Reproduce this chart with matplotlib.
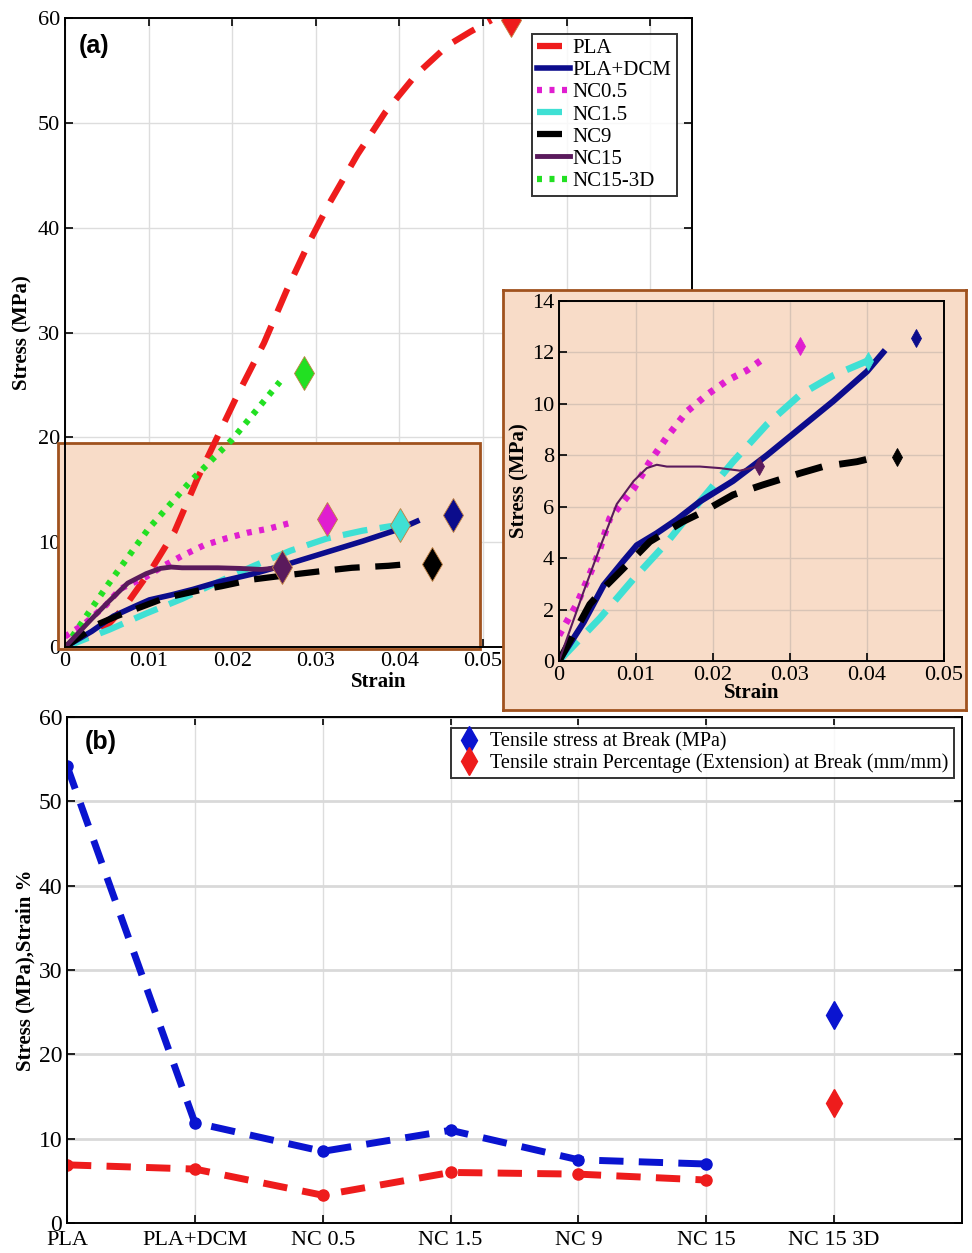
'''
Stress-strain curves (a) with zoomed inset, and break values per sample (b).
'''

import numpy as np
import matplotlib.pyplot as plt
from matplotlib.patches import Rectangle

plt.rcParams['font.family'] = ['Liberation Serif', 'DejaVu Serif']

# ---- panel (a) data: strain, stress (MPa) ----
pla_x = [0, 0.005, 0.0072, 0.0104, 0.0131, 0.0158, 0.0185, 0.0206, 0.0238, 0.0265,
         0.0292, 0.0316, 0.035, 0.0383, 0.042, 0.0458, 0.0485, 0.051]
pla_y = [0, 2.0, 3.9, 7.5, 11.0, 16.0, 20.5, 24.0, 29.0, 34.0,
         38.6, 42.3, 47.0, 51.0, 54.6, 57.4, 58.7, 59.8]

dcm_x = [0, 0.0032, 0.0058, 0.0084, 0.0101, 0.0127, 0.0153, 0.0183, 0.0226, 0.027,
         0.0313, 0.0356, 0.04, 0.0421]
dcm_y = [0, 1.5, 2.95, 3.9, 4.5, 4.97, 5.5, 6.2, 7.0, 8.0, 9.05, 10.1, 11.26, 12.0]

nc05_x = [0, 0.0023, 0.0049, 0.0066, 0.0097, 0.0118, 0.014, 0.0166, 0.0192, 0.0218,
          0.0244, 0.027]
nc05_y = [1.0, 2.2, 4.0, 5.55, 6.7, 7.75, 8.7, 9.7, 10.35, 10.9, 11.3, 11.85]

nc15_x = [0, 0.0053, 0.0097, 0.014, 0.0183, 0.0226, 0.027, 0.0313, 0.0356, 0.0399]
nc15_y = [0, 1.66, 3.2, 4.6, 6.2, 7.75, 9.2, 10.35, 11.1, 11.65]

nc9_x = [0, 0.004, 0.0062, 0.0097, 0.0118, 0.0161, 0.0187, 0.0226, 0.0265, 0.0313,
         0.0343, 0.0387, 0.0408]
nc9_y = [0, 2.2, 2.95, 4.0, 4.64, 5.42, 5.8, 6.46, 6.85, 7.3, 7.56, 7.75, 7.9]

nc150_x = [0, 0.0032, 0.0053, 0.0075, 0.0097, 0.0114, 0.0127, 0.014, 0.0157, 0.0183,
           0.0209, 0.0235, 0.0257]
nc150_y = [0, 2.7, 4.4, 6.1, 7.0, 7.5, 7.63, 7.56, 7.56, 7.56, 7.5, 7.4, 7.56]

nc3d_x = [0, 0.005, 0.01, 0.015, 0.02, 0.0257]
nc3d_y = [0, 5.8, 11.3, 15.8, 19.8, 25.3]

# break points (diamonds)
brk_pla = (0.0534, 59.8)
brk_dcm = (0.0464, 12.55)
brk_nc05 = (0.0313, 12.25)
brk_nc15 = (0.0401, 11.65)
brk_nc9 = (0.0439, 7.95)
brk_nc150 = (0.026, 7.6)
brk_nc3d = (0.0286, 26.1)

# ---- panel (b) data ----
samples = ['PLA', 'PLA+DCM', 'NC 0.5', 'NC 1.5', 'NC 9', 'NC 15', 'NC 15 3D']
stress_break = [54.2, 11.9, 8.5, 11.0, 7.5, 7.0, 24.7]
strain_break = [6.9, 6.4, 3.3, 6.0, 5.8, 5.1, 14.2]

c_pla = '#ee1c1c'
c_dcm = '#0c0c8c'
c_nc05 = '#e01ed0'
c_nc15 = '#3fe0d4'
c_nc9 = 'black'
c_nc150 = '#5a1a5c'
c_nc3d = '#22e022'
peach = '#f8dcc8'
brown = '#a0521e'

fig = plt.figure(figsize=(9.72, 12.53), dpi=100)


def curves(ax, lw_scale=1.0, ms=17, inset=False):
    if not inset:
        ax.plot(pla_x, pla_y, color=c_pla, lw=4.5, ls=(0, (4, 2.5)), label='PLA')
        ax.plot(nc3d_x, nc3d_y, color=c_nc3d, lw=4.5, ls=(0, (0.8, 1.2)), label='NC15-3D')
    ax.plot(nc05_x, nc05_y, color=c_nc05, lw=4.5 * lw_scale, ls=(0, (0.8, 1.2)), label='NC0.5')
    ax.plot(nc15_x, nc15_y, color=c_nc15, lw=4.5 * lw_scale, ls=(0, (4, 2)), label='NC1.5')
    ax.plot(dcm_x, dcm_y, color=c_dcm, lw=4.0 * lw_scale, label='PLA+DCM')
    ax.plot(nc9_x, nc9_y, color=c_nc9, lw=4.5 * lw_scale, ls=(0, (4, 2.5)), label='NC9')
    ax.plot(nc150_x, nc150_y, color=c_nc150, lw=1.5 if inset else 3.5, label='NC15')
    pts = [(brk_nc05, c_nc05), (brk_nc15, c_nc15), (brk_dcm, c_dcm), (brk_nc9, c_nc9),
           (brk_nc150, c_nc150)]
    if not inset:
        pts = [(brk_pla, c_pla), (brk_nc3d, c_nc3d)] + pts
    for (bx, by), c in pts:
        ax.plot(bx, by, marker='d', ms=ms, color=c, mec='#c08040' if not inset else c,
                mew=0.6, ls='None')


def style(ax, fs=16):
    ax.grid(True, color='#dddddd', lw=1)
    ax.set_axisbelow(True)
    ax.tick_params(direction='in', top=True, right=True, labelsize=fs, length=6, width=1.2)
    for s in ax.spines.values():
        s.set_linewidth(1.4)


# ---- (a) main axes ----
ax = fig.add_axes([0.0669, 0.4836, 0.6450, 0.5020])
ax.add_patch(Rectangle((-0.0008, -0.2), 0.0505, 19.7, facecolor=peach, edgecolor=brown,
                       lw=2, zorder=1.5, clip_on=False))
curves(ax)
ax.set_xlim(0, 0.075)
ax.set_ylim(0, 60)
ax.set_xticks(np.arange(0, 0.0751, 0.01))
ax.set_xticklabels(['0', '0.01', '0.02', '0.03', '0.04', '0.05', '0.06', '0.07'])
ax.set_yticks(np.arange(0, 61, 10))
style(ax)
ax.set_xlabel('Strain', fontsize=15, fontweight='bold', labelpad=1)
ax.set_ylabel('Stress (MPa)', fontsize=15, fontweight='bold', labelpad=4)
ax.text(0.022, 0.975, '(a)', transform=ax.transAxes, fontsize=18, fontweight='bold',
        family='Liberation Sans', va='top')

h, l = ax.get_legend_handles_labels()
order = ['PLA', 'PLA+DCM', 'NC0.5', 'NC1.5', 'NC9', 'NC15', 'NC15-3D']
hs = [h[l.index(o)] for o in order]
leg = ax.legend(hs, order, loc='upper right', bbox_to_anchor=(0.982, 0.982), fontsize=15,
                handlelength=1.6, handletextpad=0.1, labelspacing=0.12, borderpad=0.25,
                borderaxespad=0.2, frameon=True, fancybox=False, edgecolor='black')
leg.get_frame().set_linewidth(1.4)

# ---- (a) inset ----
box = fig.add_axes([0.5175, 0.4334, 0.4760, 0.3352], zorder=5)
box.set_facecolor(peach)
box.set_xticks([])
box.set_yticks([])
for s in box.spines.values():
    s.set_color(brown)
    s.set_linewidth(2)

ins = fig.add_axes([0.5751, 0.4725, 0.3961, 0.2873], zorder=6)
ins.set_facecolor(peach)
curves(ins, lw_scale=1.1, ms=9, inset=True)
ins.set_xlim(0, 0.05)
ins.set_ylim(0, 14)
ins.set_xticks(np.arange(0, 0.051, 0.01))
ins.set_xticklabels(['0', '0.01', '0.02', '0.03', '0.04', '0.05'])
ins.set_yticks(np.arange(0, 15, 2))
style(ins, fs=16)
ins.grid(True, color='#d8c4b6', lw=1)
ins.tick_params(top=False, right=False)
ins.set_xlabel('Strain', fontsize=15, fontweight='bold', labelpad=-1)
ins.set_ylabel('Stress (MPa)', fontsize=15, fontweight='bold', labelpad=2)

# ---- (b) ----
bx = fig.add_axes([0.0689, 0.0239, 0.9208, 0.4039])
xs = np.arange(1, len(samples) + 1)
bx.plot(xs[:6], stress_break[:6], color='#0a14d0', lw=5, ls=(0, (3.5, 2.2)),
        marker='o', ms=8)
bx.plot(xs[:6], strain_break[:6], color='#ee1c1c', lw=5, ls=(0, (3.5, 2.2)),
        marker='o', ms=8)
bx.plot(xs[6], stress_break[6], marker='d', ms=14, color='#0a14d0', ls='None',
        label='Tensile stress at Break (MPa)')
bx.plot(xs[6], strain_break[6], marker='d', ms=14, color='#ee1c1c', ls='None',
        label='Tensile strain Percentage (Extension) at Break (mm/mm)')
bx.set_xlim(1, 8)
bx.set_ylim(0, 60)
bx.set_xticks(xs)
bx.set_xticklabels(samples)
bx.set_yticks(np.arange(0, 61, 10))
style(bx, fs=17)
bx.grid(True, axis='y', color='#d9d9d9', lw=2)
bx.grid(True, axis='x', color='#dddddd', lw=1)
bx.tick_params(axis='x', pad=6, labelsize=16)
bx.set_ylabel('Stress (MPa),Strain %', fontsize=15, fontweight='bold', labelpad=2)
bx.text(0.02, 0.975, '(b)', transform=bx.transAxes, fontsize=18, fontweight='bold',
        family='Liberation Sans', va='top')
lg = bx.legend(loc='upper right', bbox_to_anchor=(0.993, 0.983), fontsize=14.5,
               handletextpad=0.4, labelspacing=0.05, borderpad=0.25, handlelength=1.3,
               borderaxespad=0.1, fancybox=False, edgecolor='black')
lg.get_frame().set_linewidth(1.4)

plt.savefig('out.png', dpi=100)
